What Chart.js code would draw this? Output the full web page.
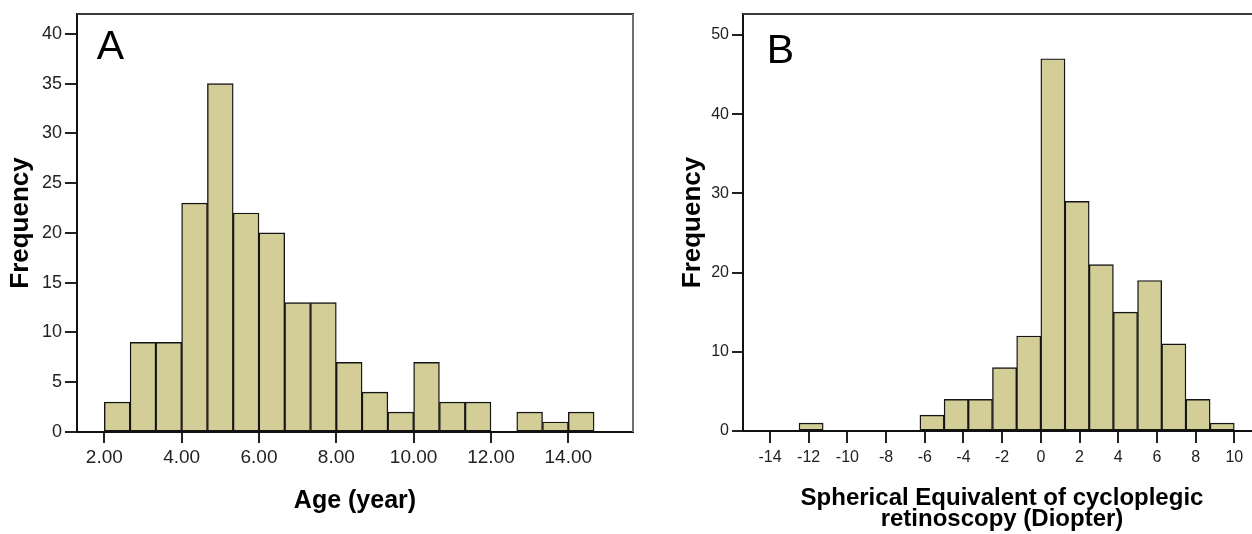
<!DOCTYPE html>
<html><head><meta charset="utf-8">
<script src="https://cdn.jsdelivr.net/npm/chart.js@4"></script>
<style>
html,body{margin:0;padding:0;background:#fff;overflow:hidden;width:1252px;height:534px;}
#ca{position:absolute;left:0;top:0;}
#cb{position:absolute;left:660px;top:0;}
</style></head><body>
<canvas id="ca" width="660" height="534"></canvas>
<canvas id="cb" width="620" height="534"></canvas>
<script>
// Panel A: Age histogram
const ageBinStart = [2.0000, 2.6667, 3.3333, 4.0000, 4.6667, 5.3333, 6.0000, 6.6667, 7.3333, 8.0000, 8.6667, 9.3333, 10.0000, 10.6667, 11.3333, 12.0000, 12.6667, 13.3333, 14.0000];
const ageBinWidth = 0.6667;
const ageFreq = [3, 9, 9, 23, 35, 22, 20, 13, 13, 7, 4, 2, 7, 3, 3, 0, 2, 1, 2];
const ageXTicks = [2, 4, 6, 8, 10, 12, 14];
const ageYTicks = [0, 5, 10, 15, 20, 25, 30, 35, 40];

// Panel B: Spherical equivalent histogram
const seBinStart = [-12.5, -11.25, -10, -8.75, -7.5, -6.25, -5, -3.75, -2.5, -1.25, 0, 1.25, 2.5, 3.75, 5, 6.25, 7.5, 8.75];
const seBinWidth = 1.25;
const seFreq = [1, 0, 0, 0, 0, 2, 4, 4, 8, 12, 47, 29, 21, 15, 19, 11, 4, 1];
const seXTicks = [-14, -12, -10, -8, -6, -4, -2, 0, 2, 4, 6, 8, 10];
const seYTicks = [0, 10, 20, 30, 40, 50];

const FONT = "'Liberation Sans', Arial, Helvetica, sans-serif";
const barFill = '#d3ce97';
const barEdge = '#151515';

function binPoints(starts, width, freq) {
  return starts.map((s, i) => ({ x: s + width / 2, y: freq[i] }));
}

const framePlugin = {
  id: 'frame',
  afterDraw(chart, args, opts) {
    const { ctx, chartArea: a } = chart;
    ctx.save();
    ctx.lineWidth = 2;
    ctx.strokeStyle = '#3a3a3a';
    ctx.beginPath(); ctx.moveTo(a.left, a.top); ctx.lineTo(a.right + 1, a.top); ctx.stroke();
    ctx.strokeStyle = '#707070';
    ctx.beginPath(); ctx.moveTo(a.right, a.top); ctx.lineTo(a.right, a.bottom); ctx.stroke();
    ctx.font = '41px ' + FONT;
    ctx.fillStyle = '#000';
    ctx.textBaseline = 'alphabetic';
    ctx.textAlign = 'left';
    ctx.fillText(opts.letter, a.left + opts.dx, a.top + opts.dy);
    ctx.restore();
  }
};

function makeChart(id, c) {
  return new Chart(document.getElementById(id), {
    type: 'bar',
    data: {
      datasets: [{
        data: binPoints(c.starts, c.width, c.freq),
        backgroundColor: barFill,
        borderColor: barEdge,
        borderWidth: 1.4,
        borderSkipped: false,
        barPercentage: 1,
        categoryPercentage: 1
      }]
    },
    plugins: [framePlugin],
    options: {
      responsive: false,
      animation: false,
      events: [],
      layout: { padding: { top: 14, right: c.padRight, left: 0, bottom: 0 } },
      plugins: {
        legend: { display: false },
        tooltip: { enabled: false },
        frame: { letter: c.letter, dx: c.letterDx, dy: c.letterDy }
      },
      scales: {
        x: {
          type: 'linear', min: c.xMin, max: c.xMax, offset: false, z: 1,
          afterFit(s) { s.height = c.xAxisHeight; },
          afterBuildTicks(s) { s.ticks = c.xTicks.map(v => ({ value: v })); },
          grid: { display: true, offset: false, drawOnChartArea: false, drawTicks: true, tickLength: c.xTickLen, color: '#222', lineWidth: 2 },
          border: { display: true, color: '#111', width: 2 },
          ticks: { font: { family: FONT, size: c.xTickSize }, color: '#222', padding: c.xTickPad, maxRotation: 0, autoSkip: false, callback: v => c.fmt(v) },
          title: { display: true, text: c.xTitle, color: '#000', font: { family: FONT, size: c.xTitleSize, weight: 'bold', lineHeight: c.xTitleLH }, padding: { top: 0, bottom: c.xTitlePadB } }
        },
        y: {
          type: 'linear', min: 0, max: c.yMax, z: 1,
          afterFit(s) { s.width = c.yAxisWidth; },
          afterBuildTicks(s) { s.ticks = c.yTicks.map(v => ({ value: v })); },
          grid: { display: true, drawOnChartArea: false, drawTicks: true, tickLength: c.yTickLen, color: '#222', lineWidth: 2 },
          border: { display: true, color: '#111', width: 2 },
          ticks: { font: { family: FONT, size: c.yTickSize }, color: '#222', padding: c.yTickPad, autoSkip: false, callback: v => String(v) },
          title: { display: true, text: 'Frequency', color: '#000', font: { family: FONT, size: 26, weight: 'bold', lineHeight: 1.2 }, padding: { top: c.yTitlePadT, bottom: 0 } }
        }
      }
    }
  });
}

makeChart('ca', {
  starts: ageBinStart, width: ageBinWidth, freq: ageFreq,
  xTicks: ageXTicks, yTicks: ageYTicks,
  xMin: 1.294, xMax: 15.673, yMax: 42,
  padRight: 27, xAxisHeight: 102, yAxisWidth: 77,
  xTickLen: 11, xTickPad: 3, xTickSize: 19,
  yTickLen: 12, yTickPad: 3, yTickSize: 18,
  xTitle: 'Age (year)', xTitleSize: 25, xTitleLH: 1.2, xTitlePadB: 18,
  yTitlePadT: 5,
  fmt: v => v.toFixed(2),
  letter: 'A', letterDx: 19.7, letterDy: 45.3
});

makeChart('cb', {
  starts: seBinStart, width: seBinWidth, freq: seFreq,
  xTicks: seXTicks, yTicks: seYTicks,
  xMin: -15.395, xMax: 11.38, yMax: 52.65,
  padRight: 19, xAxisHeight: 103, yAxisWidth: 83,
  xTickLen: 12, xTickPad: 5, xTickSize: 16,
  yTickLen: 11, yTickPad: 3, yTickSize: 16,
  xTitle: ['Spherical Equivalent of cycloplegic', 'retinoscopy (Diopter)'], xTitleSize: 24, xTitleLH: 0.875, xTitlePadB: 4,
  yTitlePadT: 17,
  fmt: v => String(v),
  letter: 'B', letterDx: 23.7, letterDy: 48.7
});
</script>
</body></html>
